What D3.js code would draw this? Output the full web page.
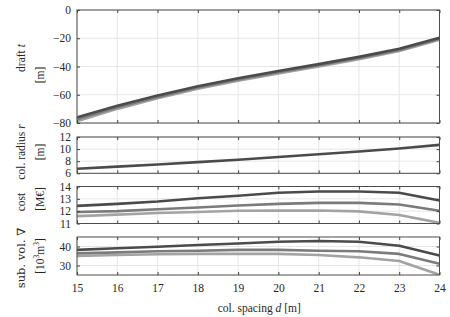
<!DOCTYPE html>
<html>
<head>
<meta charset="utf-8">
<script src="https://cdn.jsdelivr.net/npm/d3@7"></script>
<style>
  body { margin: 0; background: #fff; }
  text { font-family: "Liberation Serif", "DejaVu Serif", serif; fill: #262626; }
</style>
</head>
<body>
<div id="chart-container"></div>
<script>
// x values (column spacing d [m])
const spacing = [15, 16, 17, 18, 19, 20, 21, 22, 23, 24];

// draft t [m]
const draftDark = [-76, -67.8, -60.5, -54, -48.3, -43.2, -38.3, -33.2, -27.5, -19.6];
const draftMid = [-77.4, -68.9, -61.5, -54.9, -49.1, -44.1, -39.1, -34, -28.3, -20.3];
const draftLight = [-78.8, -70, -62.5, -55.8, -50, -45, -40, -34.8, -29, -21];

// column radius r [m]
const radius = [6.75, 7.1, 7.45, 7.85, 8.25, 8.7, 9.15, 9.6, 10.1, 10.7];

// cost [M€]
const costDark = [12.43, 12.59, 12.78, 13.05, 13.25, 13.49, 13.6, 13.6, 13.49, 12.87];
const costMid = [11.93, 12.0, 12.16, 12.3, 12.46, 12.59, 12.67, 12.67, 12.54, 12.03];
const costLight = [11.6, 11.72, 11.85, 11.93, 12.03, 12.04, 12.06, 11.98, 11.69, 11.05];

// submerged volume [10^3 m^3]
const volDark = [38.2, 39.1, 39.9, 40.8, 41.6, 42.5, 42.9, 42.5, 40.4, 35.3];
const volMid = [36.4, 36.9, 37.5, 37.8, 38.2, 38.2, 37.8, 37.5, 36.1, 30.9];
const volLight = [35.0, 35.5, 35.9, 36.1, 36.1, 36.1, 35.5, 34.3, 32.4, 25.1];

// tick values
const xTicks = [15, 16, 17, 18, 19, 20, 21, 22, 23, 24];
const draftTicks = [-80, -60, -40, -20, 0];
const radiusTicks = [6, 8, 10, 12];
const costTicks = [11, 12, 13, 14];
const volTicks = [30, 40];

const shades = ["#4b4b4b", "#7b7b7b", "#a3a3a3"];
const fs = 11.5;

const W = 450, H = 317;
const left = 77, right = 439.5;

const svg = d3.select("#chart-container")
  .append("svg")
  .attr("width", W)
  .attr("height", H);

svg.append("rect").attr("width", W).attr("height", H).attr("fill", "#fff");

const xScale = d3.scaleLinear()
  .domain([15, 24])
  .range([left, right]);

const panels = [
  { top: 10, bottom: 123, domain: [-80, 0], ticks: draftTicks,
    series: [draftLight, draftMid, draftDark],
    label: [{ t: ["draft ", "t"], y: 58 }, { t: ["[m]"], y: 75 }] },
  { top: 137, bottom: 173.3, domain: [6, 12], ticks: radiusTicks,
    series: [radius],
    label: [{ t: ["col. radius ", "r"], y: 152 }, { t: ["[m]"], y: 152 }] },
  { top: 186.5, bottom: 223.5, domain: [11, 14], ticks: costTicks,
    series: [costLight, costMid, costDark],
    label: [{ t: ["cost"], y: 202 }, { t: ["[M€]"], y: 199 }] },
  { top: 237, bottom: 275, domain: [25, 45], ticks: volTicks,
    series: [volLight, volMid, volDark],
    label: [{ t: ["sub. vol. ∇"], y: 258 }, { t: ["[10", "3", "m", "3", "]"], y: 256 }] }
];

panels.forEach((p, i) => {
  const yScale = d3.scaleLinear().domain(p.domain).range([p.bottom, p.top]);
  const g = svg.append("g");

  // grid
  g.selectAll(".vgrid").data(xTicks).enter().append("line")
    .attr("x1", d => xScale(d)).attr("x2", d => xScale(d))
    .attr("y1", p.top).attr("y2", p.bottom)
    .attr("stroke", "#e6e6e6").attr("stroke-width", 1);
  g.selectAll(".hgrid").data(p.ticks).enter().append("line")
    .attr("x1", left).attr("x2", right)
    .attr("y1", d => yScale(d)).attr("y2", d => yScale(d))
    .attr("stroke", "#e6e6e6").attr("stroke-width", 1);

  // lines
  const clipId = "clip" + i;
  svg.append("clipPath").attr("id", clipId).append("rect")
    .attr("x", left).attr("y", p.top).attr("width", right - left).attr("height", p.bottom - p.top);

  const line = d3.line()
    .x((d, j) => xScale(spacing[j]))
    .y(d => yScale(d));

  const n = p.series.length;
  p.series.forEach((s, k) => {
    const color = n === 1 ? shades[0] : shades[n - 1 - k];
    g.append("path")
      .datum(s)
      .attr("clip-path", `url(#${clipId})`)
      .attr("fill", "none")
      .attr("stroke", color)
      .attr("stroke-width", 2.6)
      .attr("stroke-linejoin", "round")
      .attr("d", line);
  });

  // axes (ticks inward, box frame)
  const yAxisL = d3.axisLeft(yScale).tickValues(p.ticks).tickFormat(d3.format("d"))
    .tickSizeInner(-3).tickSizeOuter(0).tickPadding(6);
  const yAxisR = d3.axisRight(yScale).tickValues(p.ticks).tickSizeInner(-3).tickSizeOuter(0).tickFormat("");
  const xAxisB = d3.axisBottom(xScale).tickValues(xTicks).tickFormat(d3.format("d"))
    .tickSizeInner(-3).tickSizeOuter(0).tickPadding(9);
  const xAxisT = d3.axisTop(xScale).tickValues(xTicks).tickSizeInner(-3).tickSizeOuter(0).tickFormat("");

  g.append("g").attr("transform", `translate(${left},0)`).call(yAxisL);
  g.append("g").attr("transform", `translate(${right},0)`).call(yAxisR);
  const gb = g.append("g").attr("transform", `translate(0,${p.bottom})`).call(xAxisB);
  g.append("g").attr("transform", `translate(0,${p.top})`).call(xAxisT);

  if (i < panels.length - 1) gb.selectAll("text").remove();

  g.selectAll(".domain").remove();
  g.selectAll(".tick line").attr("stroke", "#404040");
  g.selectAll(".tick text").attr("font-size", fs).attr("fill", "#262626")
    .style("font-family", "'Liberation Serif', serif");

  g.append("rect")
    .attr("x", left).attr("y", p.top)
    .attr("width", right - left).attr("height", p.bottom - p.top)
    .attr("fill", "none").attr("stroke", "#4d4d4d").attr("stroke-width", 1);

  // y labels, two lines
  const xs = [21, 40];
  p.label.forEach((lab, k) => {
    const t = svg.append("text")
      .attr("transform", `translate(${xs[k]},${lab.y}) rotate(-90)`)
      .attr("text-anchor", "middle")
      .attr("dominant-baseline", "central")
      .attr("font-size", fs);
    lab.t.forEach((part, m) => {
      const ts = t.append("tspan").text(part);
      if ((part === "t" || part === "r") && m === 1) ts.attr("font-style", "italic");
      if (part === "∇" || part.endsWith("∇")) ts.style("font-family", "'DejaVu Serif', serif");
      if (part === "3") ts.attr("font-size", 7.5).attr("dy", -4.5);
      if (m > 0 && lab.t[m - 1] === "3") ts.attr("dy", 4.5);
    });
  });
});

// x label
const xl = svg.append("text")
  .attr("x", (left + right) / 2 + 1)
  .attr("y", 312)
  .attr("text-anchor", "middle")
  .attr("font-size", fs);
xl.append("tspan").text("col. spacing ");
xl.append("tspan").attr("font-style", "italic").text("d");
xl.append("tspan").text(" [m]");
</script>
</body>
</html>
